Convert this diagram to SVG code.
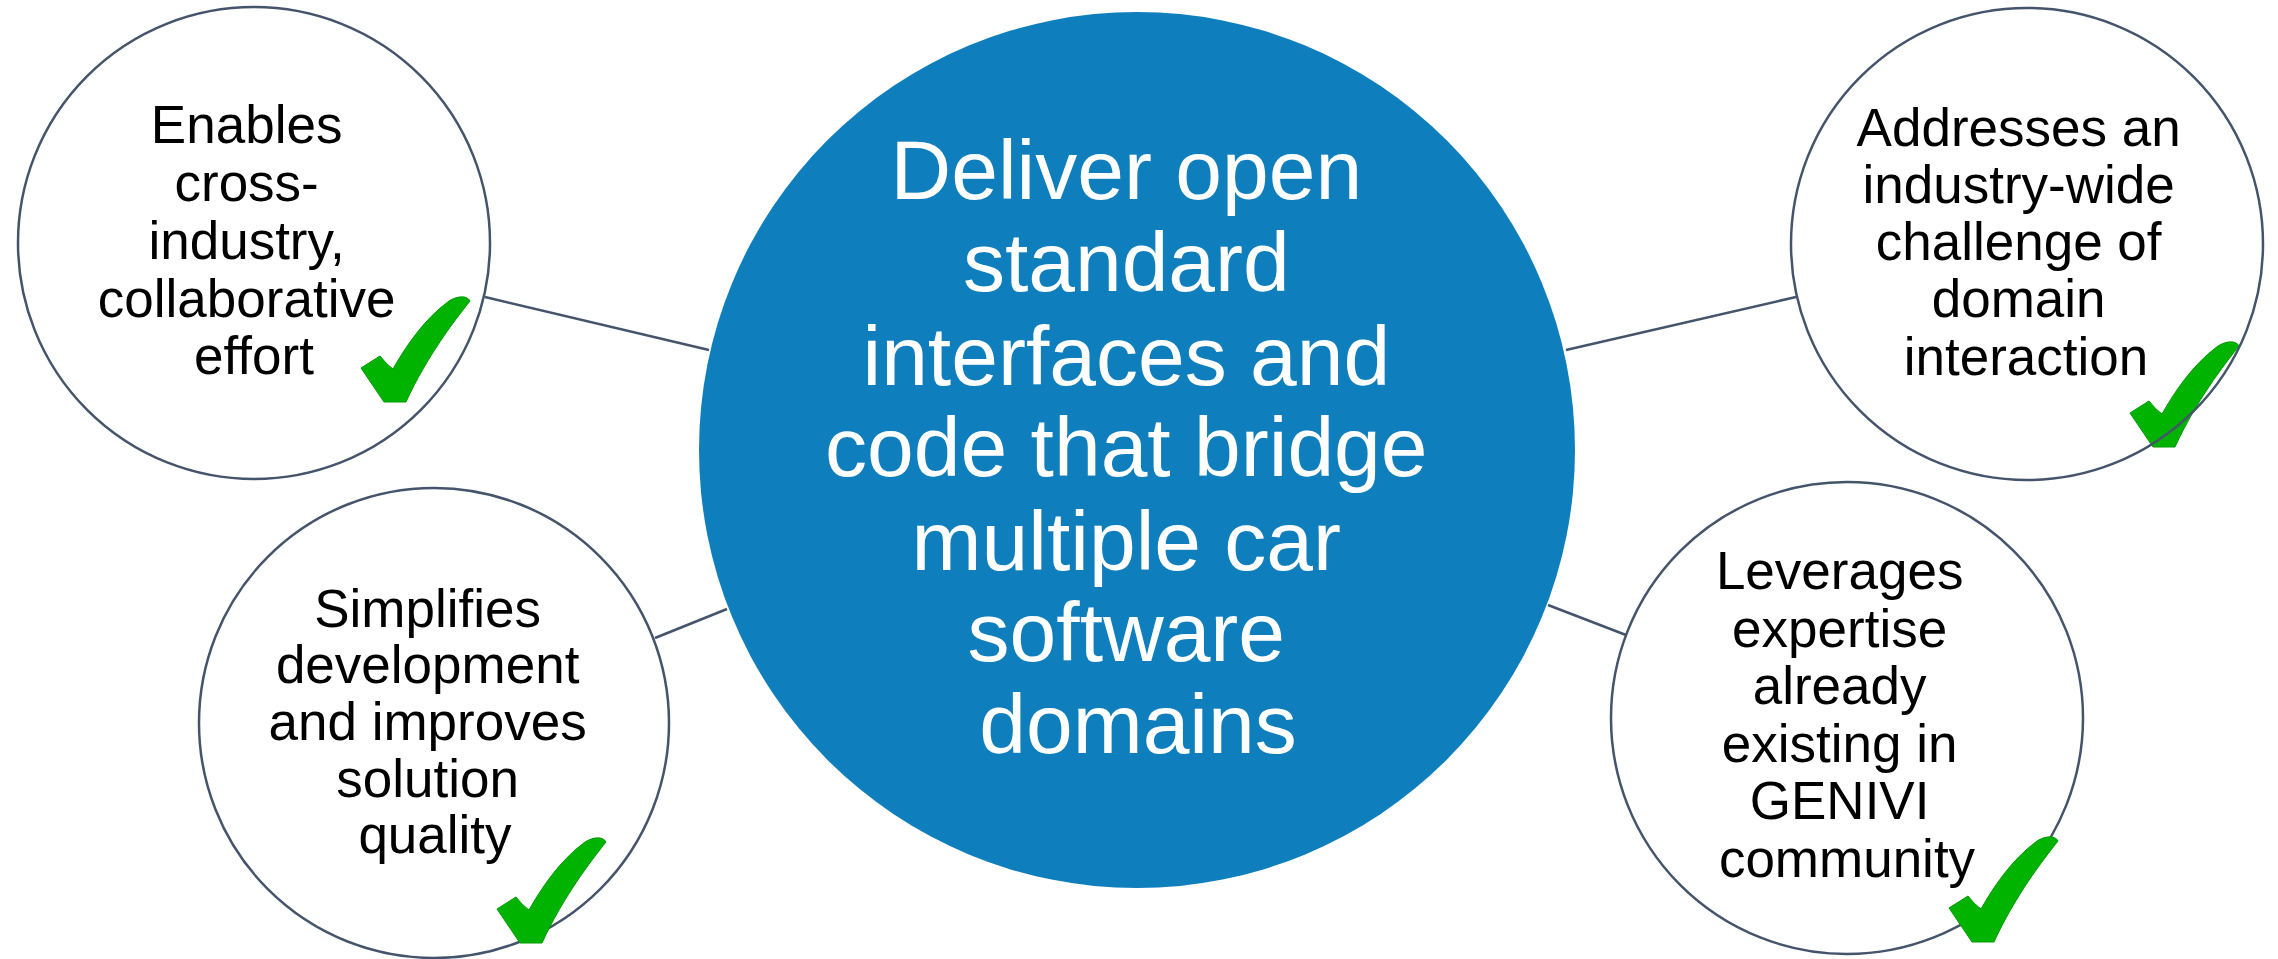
<svg xmlns="http://www.w3.org/2000/svg" width="2278" height="959" viewBox="0 0 2278 959">
<style>
.bg{fill:#ffffff}
.ring{fill:#ffffff;stroke:#44546a;stroke-width:2.5}
.ringline{fill:none;stroke:#44546a;stroke-width:2.5}
.conn{stroke:#44546a;stroke-width:2.5;fill:none}
.hub{fill:#0e7fbc}
.t{font-family:"Liberation Sans",Arial,sans-serif;font-size:53px;fill:#000000;text-anchor:middle}
.th{font-family:"Liberation Sans",Arial,sans-serif;font-size:84px;fill:#ffffff;text-anchor:middle}
.chk{fill:#00b300;stroke:#009a00;stroke-width:1}
</style>
<defs>
<path id="check" d="M0,72 L19,60 Q26,69 32,73 C44,52 62,24 88,5 C96,0 106,-1 109,5 C94,24 66,60 45,106 L23,106 Z"/>
</defs>
<rect class="bg" x="0" y="0" width="2278" height="959"/>
<g id="connectors">
<line class="conn" x1="485" y1="297" x2="709" y2="350"/>
<line class="conn" x1="655" y1="638" x2="727" y2="609"/>
<line class="conn" x1="1566" y1="350" x2="1796" y2="297"/>
<line class="conn" x1="1548" y1="605" x2="1626" y2="635"/>
</g>
<g id="hub">
<circle class="hub" cx="1137" cy="450" r="438"/>
<text class="th">
<tspan x="1138" y="199">Deliver open</tspan>
<tspan x="1138" y="291">standard</tspan>
<tspan x="1138" y="385">interfaces and</tspan>
<tspan x="1138" y="476">code that bridge</tspan>
<tspan x="1138" y="570">multiple car</tspan>
<tspan x="1138" y="661">software</tspan>
<tspan x="1138" y="753">domains</tspan>
</text>
</g>
<g id="node-enables">
<circle class="ring" cx="254" cy="243" r="236"/>
<text class="t">
<tspan x="254" y="143">Enables</tspan>
<tspan x="254" y="201">cross-</tspan>
<tspan x="254" y="259">industry,</tspan>
<tspan x="254" y="317">collaborative</tspan>
<tspan x="254" y="374">effort</tspan>
</text>
<use href="#check" class="chk" transform="translate(361,296)"/>
</g>
<g id="node-simplifies">
<circle class="ring" cx="434" cy="723" r="235"/>
<text class="t">
<tspan x="435" y="627">Simplifies</tspan>
<tspan x="435" y="683">development</tspan>
<tspan x="435" y="740">and improves</tspan>
<tspan x="435" y="797">solution</tspan>
<tspan x="435" y="853">quality</tspan>
</text>
<use href="#check" class="chk" transform="translate(497,837)"/>
</g>
<g id="node-leverages">
<circle class="ring" cx="1847" cy="718" r="236"/>
<text class="t">
<tspan x="1847" y="589">Leverages</tspan>
<tspan x="1847" y="647">expertise</tspan>
<tspan x="1847" y="704">already</tspan>
<tspan x="1847" y="762">existing in</tspan>
<tspan x="1847" y="819">GENIVI</tspan>
<tspan x="1847" y="877">community</tspan>
</text>
<use href="#check" class="chk" transform="translate(1949,836)"/>
</g>
<g id="node-addresses">
<circle cx="2027" cy="244" r="236" fill="#ffffff"/>
<text class="t">
<tspan x="2026" y="146">Addresses an</tspan>
<tspan x="2026" y="203">industry-wide</tspan>
<tspan x="2026" y="260">challenge of</tspan>
<tspan x="2026" y="317">domain</tspan>
<tspan x="2026" y="375">interaction</tspan>
</text>
<use href="#check" class="chk" transform="translate(2130,341)"/>
<circle class="ringline" cx="2027" cy="244" r="236"/>
</g>
</svg>
